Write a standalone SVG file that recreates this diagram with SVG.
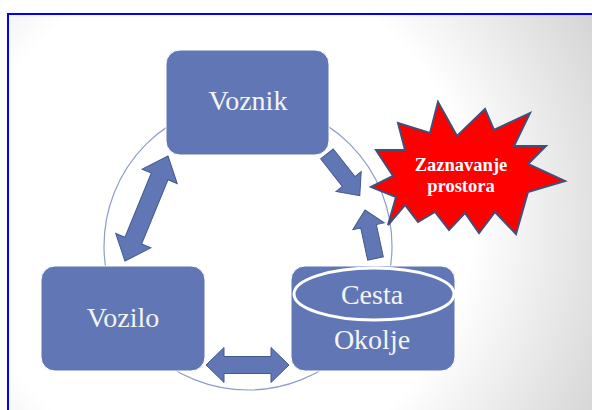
<svg xmlns="http://www.w3.org/2000/svg" width="592" height="410" viewBox="0 0 592 410">
  <defs>
    <radialGradient id="bg" cx="220" cy="220" r="420" gradientUnits="userSpaceOnUse">
      <stop offset="0" stop-color="#ffffff"/>
      <stop offset="0.6" stop-color="#ffffff"/>
      <stop offset="1" stop-color="#d6d6d6"/>
    </radialGradient>
    <style>
      .box { fill: #6177b5; stroke: #ffffff; stroke-width: 1; }
      .arrow { fill: #6177b5; stroke: #44598e; stroke-width: 1; stroke-linejoin: miter; }
      .lbl { font-family: "Liberation Serif", "Times New Roman", serif; font-size: 28px; fill: #f4f4f4; text-anchor: middle; }
      .star { fill: #ff0000; stroke: #3f5079; stroke-width: 2; stroke-linejoin: miter; }
      .slbl { font-family: "Liberation Serif", "Times New Roman", serif; font-size: 18.5px; font-weight: bold; fill: #ffffff; text-anchor: middle; }
    </style>
  </defs>

  <rect x="0" y="0" width="592" height="410" fill="#ffffff"/>
  <rect x="8" y="14" width="620" height="430" fill="url(#bg)" stroke="#0000ff" stroke-width="2"/>

  <circle cx="248" cy="246" r="144" fill="none" stroke="#8d9dcc" stroke-width="1.2"/>

  <g id="connectors">
    <path class="arrow" transform="translate(168,156) rotate(112.3)" d="M0,0 L22,-19 L22,-9 L91.5,-9 L91.5,-19 L113.5,0 L91.5,19 L91.5,9 L22,9 L22,19 Z"/>
    <path class="arrow" d="M206,365 L224,347.5 L224,356.5 L271,356.5 L271,347.5 L289,365 L271,382.5 L271,373.5 L224,373.5 L224,382.5 Z"/>
    <path class="arrow" transform="translate(327,154) rotate(51.8)" d="M0,-8 L35,-8 L35,-16 L53,0 L35,16 L35,8 L0,8 Z"/>
    <path class="arrow" transform="translate(375.5,258.5) rotate(-102.2)" d="M0,-8 L33,-8 L33,-16 L49.6,0 L33,16 L33,8 L0,8 Z"/>
  </g>

  <g id="voznik">
    <rect class="box" x="166" y="50" width="163" height="105" rx="14"/>
    <text class="lbl" x="248" y="110">Voznik</text>
  </g>

  <g id="vozilo">
    <rect class="box" x="41" y="266" width="164" height="105" rx="14"/>
    <text class="lbl" x="123" y="327">Vozilo</text>
  </g>

  <g id="okolje">
    <rect class="box" x="291" y="266" width="164" height="105" rx="14"/>
    <ellipse cx="374" cy="294" rx="80" ry="26" fill="none" stroke="#ffffff" stroke-width="3"/>
    <text class="lbl" x="372" y="304">Cesta</text>
    <text class="lbl" x="372" y="349">Okolje</text>
  </g>

  <g id="zaznavanje">
    <polygon class="star" points="438,102 457,136 485,109 494,130 530,113 514,146 546,146 528,164 565,181 528,192 516,234 495,212 479,233 465,213 449,230 435,212 418,222 405,205 388,225 396,197 371,187 393,176 376,150 405,150 398,123 430,133"/>
    <text class="slbl" x="461" y="171">Zaznavanje</text>
    <text class="slbl" x="461" y="192">prostora</text>
  </g>
</svg>
